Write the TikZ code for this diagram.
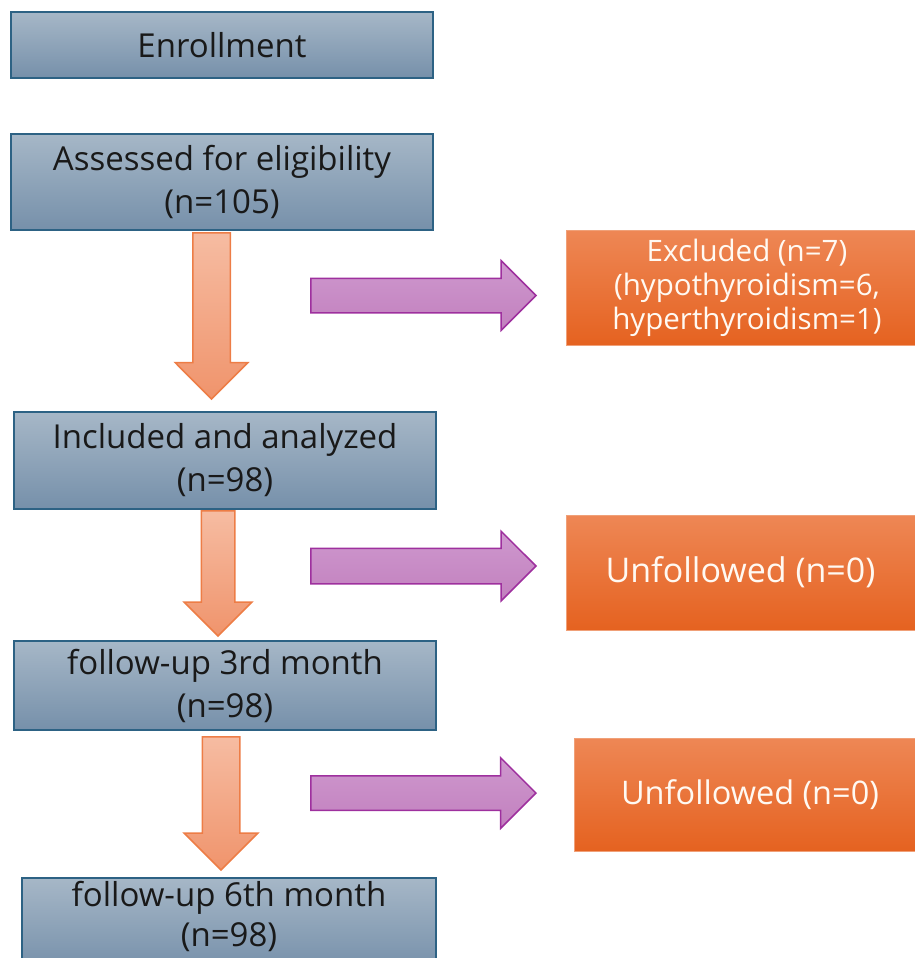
\documentclass[tikz,border=0pt]{standalone}
\usepackage{fontspec}
\setmainfont{Open Sans}
\usepackage{xcolor}
\usepackage{tikz}
\usetikzlibrary{shapes.arrows, positioning}
\definecolor{slatetop}{RGB}{166, 183, 199}
\definecolor{slatebottom}{RGB}{118, 144, 170}
\definecolor{slateline}{RGB}{45, 98, 132}
\definecolor{flametop}{RGB}{238, 135, 85}
\definecolor{flamebottom}{RGB}{229, 98, 32}
\definecolor{flameline}{RGB}{240, 160, 120}
\definecolor{salmontop}{RGB}{246, 188, 162}
\definecolor{salmonbottom}{RGB}{240, 148, 108}
\definecolor{salmonline}{RGB}{237, 125, 70}
\definecolor{plumtop}{RGB}{206, 152, 206}
\definecolor{plumbottom}{RGB}{194, 128, 190}
\definecolor{plumline}{RGB}{158, 48, 158}

\begin{document}
\begin{tikzpicture}[
    x=1pt, y=-1pt,
    stage/.style={rectangle, draw=slateline, line width=1.6pt, top color=slatetop, bottom color=slatebottom, minimum width=422pt, align=center, font=\fontsize{33}{43}\selectfont, text=black!90},
    dropout/.style={rectangle, draw=flameline, line width=0.8pt, top color=flametop, bottom color=flamebottom, align=center, text=white!95!orange, font=\fontsize{29.5}{34}\selectfont},
    downarrow/.style={single arrow, shape border rotate=270, draw=salmonline, line width=1.5pt, top color=salmontop, bottom color=salmonbottom, anchor=tip},
    sidearrow/.style={single arrow, draw=plumline, line width=1.5pt, top color=plumtop, bottom color=plumbottom, anchor=tip, minimum height=225pt}
]
    \useasboundingbox (0,0) rectangle (915,958);
    \clip (0,0) rectangle (915,958);

    % Main flow
    \node[stage, minimum height=66pt] (enroll) at (222,45) {Enrollment};
    \node[stage, minimum height=96pt] (assess) at (222,182) {Assessed for eligibility\\(n=105)};
    \node[stage, minimum height=97pt] (include) at (225,460.5) {Included and analyzed\\(n=98)};
    \node[stage, minimum height=89pt] (month3) at (225,685.5) {follow-up 3rd month\\(n=98)};
    \node[stage, minimum width=414pt, minimum height=92pt, text depth=20pt, font=\fontsize{33}{40}\selectfont] (month6) at (229,924) {follow-up 6th month\\(n=98)};

    % Losses
    \node[dropout, minimum width=362pt, minimum height=115pt] (excluded) at (747,287.5) {Excluded (n=7)\\(hypothyroidism=6,\\hyperthyroidism=1)};
    \node[dropout, minimum width=349pt, minimum height=115pt, font=\fontsize{34}{40}\selectfont] (lost3) at (740.5,572.5) {Unfollowed (n=0)};
    \node[dropout, minimum width=352pt, minimum height=113pt, font=\fontsize{32.5}{40}\selectfont] (lost6) at (750,794.5) {Unfollowed (n=0)};

    % Block arrows
    \node[downarrow, minimum height=166pt, minimum width=71pt, inner sep=18pt, single arrow head extend=17.5pt] (down1) at (211.5,400) {};
    \node[downarrow, minimum height=125pt, minimum width=66pt, inner sep=16pt, single arrow head extend=17pt] (down2) at (218,637) {};
    \node[downarrow, minimum height=133pt, minimum width=72pt, inner sep=18pt, single arrow head extend=18pt] (down3) at (221,871) {};
    \node[sidearrow, minimum width=68pt, inner sep=16.5pt, single arrow head extend=17.5pt] (side1) at (537,295.5) {};
    \node[sidearrow, minimum width=68pt, inner sep=17pt, single arrow head extend=17pt] (side2) at (537,566) {};
    \node[sidearrow, minimum width=69pt, inner sep=16.5pt, single arrow head extend=18pt] (side3) at (537,793) {};

\end{tikzpicture}
\end{document}
